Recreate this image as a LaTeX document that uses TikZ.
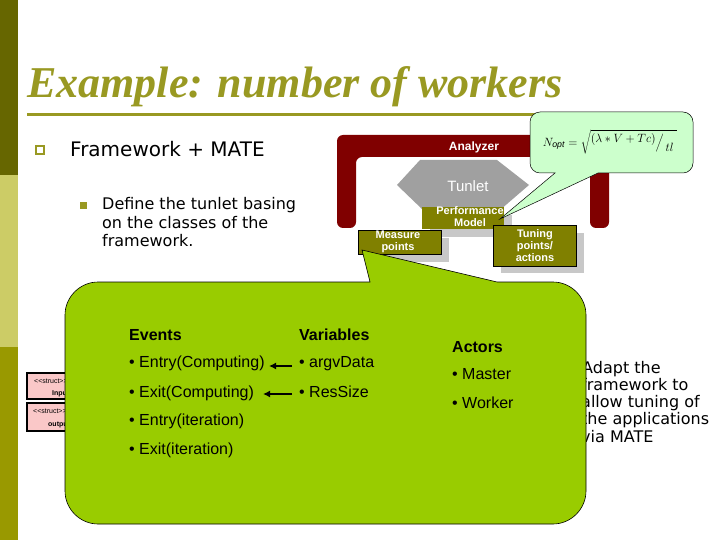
\documentclass[tikz,border=0pt]{standalone}
\usepackage{fontspec}
\setmainfont{Liberation Sans}
\newfontfamily\verd{DejaVu Sans}
\newfontfamily\tms{Liberation Serif}
\usetikzlibrary{arrows.meta}
\definecolor{darkol}{RGB}{102,102,0}
\definecolor{lightol}{RGB}{204,204,102}
\definecolor{midol}{RGB}{153,153,0}
\definecolor{titleol}{RGB}{153,153,34}
\definecolor{anared}{RGB}{128,0,0}
\definecolor{boxol}{RGB}{128,128,0}
\definecolor{hexgray}{RGB}{160,160,160}
\definecolor{shadowgray}{RGB}{200,200,200}
\definecolor{calgreen}{RGB}{153,204,0}
\definecolor{formgreen}{RGB}{204,255,204}
\definecolor{pinkbox}{RGB}{250,200,200}
\begin{document}
\begin{tikzpicture}[x=1pt,y=-1pt,
  lbl/.style={inner sep=0pt, anchor=base west},
  boxt/.style={text=white, font=\fontsize{11}{12}\selectfont\bfseries, align=center, inner sep=0pt},
  olbox/.style={fill=boxol},
  shad/.style={fill=shadowgray},
  arr/.style={-{Latex[length=7pt,width=7pt]}, line width=2pt},
  arialtxt/.style={lbl, font=\fontsize{16}{19}\selectfont},
  arialbold/.style={lbl, font=\fontsize{16}{19}\selectfont\bfseries},
  verdtxt/.style={lbl, font=\verd\fontsize{16}{19}\selectfont},
  pinkstyle/.style={fill=pinkbox, draw=black}
]
\useasboundingbox (0,0) rectangle (720,540);
\fill[white] (0,0) rectangle (720,540);
% left bar
\fill[darkol] (0,0) rectangle (18,175);
\fill[lightol] (0,175) rectangle (18,347);
\fill[midol] (0,347) rectangle (18,540);
% title
\node[lbl, text=titleol, font=\tms\fontsize{44}{50}\selectfont\bfseries\itshape] (title) at (27,98) {Example: number of workers};
\draw[titleol, line width=3pt] (27,115) -- (560,115);
% bullets
\draw[titleol, line width=1.5pt] (36,146) rectangle (44,154);
\node[lbl, font=\verd\fontsize{20}{24}\selectfont] (fw) at (70,157) {Framework + MATE};
\fill[titleol] (80,202) rectangle (87,209);
\node[verdtxt] (d1) at (102,210) {Define the tunlet basing};
\node[verdtxt] (d2) at (102,228.5) {on the classes of the};
\node[verdtxt] (d3) at (102,247) {framework.};
% right text
\node[verdtxt] (r1) at (582,373) {Adapt the};
\node[verdtxt] (r2) at (581,390) {framework to};
\node[verdtxt] (r3) at (581,407.5) {allow tuning of};
\node[verdtxt] (r4) at (581,424.5) {the applications};
\node[verdtxt] (r5) at (581,442) {via MATE};
% pink boxes
\draw[pinkstyle, line width=1.2pt] (27,373) rectangle (110,399);
\draw[pinkstyle, line width=2pt] (27,403) rectangle (110,431);
\node[lbl, font=\fontsize{7}{8}\selectfont] (p1a) at (34,383) {<{}<struct>{}>};
\node[lbl, font=\fontsize{7}{8}\selectfont\bfseries] (p1b) at (52,395) {Input};
\node[lbl, font=\fontsize{7}{8}\selectfont] (p2a) at (33,413) {<{}<struct>{}>};
\node[lbl, font=\fontsize{7}{8}\selectfont\bfseries] (p2b) at (48,426) {output};
% analyzer
\fill[anared, rounded corners=6pt] (337,228) -- (337,135) -- (609,135) -- (609,228) -- (590,228) -- (590,157) -- (356,157) -- (356,228) -- cycle;
\node[boxt, font=\fontsize{12}{14}\selectfont\bfseries] (ana) at (474,147) {Analyzer};
% tunlet hexagon
\fill[hexgray] (397,185) -- (420,160) -- (497,160) -- (529,185) -- (500,210) -- (423,210) -- cycle;
\node[text=white, font=\fontsize{15}{18}\selectfont, inner sep=0pt] (tun) at (468,186) {Tunlet};
% boxes with shadows
\fill[shad] (430,215) rectangle (512,237);
\fill[olbox] (422,207) rectangle (504,229);
\node[boxt] (perf) at (470,217) {Performance\\Model};
\fill[shad] (366,238) rectangle (449,262);
\fill[olbox, draw=black, line width=0.4pt] (358,230) rectangle (441,254);
\node[boxt] (meas) at (398,241.5) {Measure\\points};
\fill[shad] (501,233) rectangle (584,273);
\fill[olbox, draw=black, line width=0.4pt] (493,225) rectangle (576,266);
\node[boxt] (tune) at (535,245.5) {Tuning\\points/\\actions};
% formula callout
\draw[fill=formgreen, draw=black, line width=0.5pt] (540,112) -- (683,112) .. controls (688.5,112) and (693,116.5) .. (693,122) -- (693,163) .. controls (693,168.5) and (688.5,173) .. (683,173) -- (598,173) -- (500,219) -- (555,173) -- (540,173) .. controls (534.5,173) and (530,168.5) .. (530,163) -- (530,122) .. controls (530,116.5) and (534.5,112) .. (540,112) -- cycle;
\node[inner sep=0pt, font=\fontsize{12.5}{15}\selectfont] (form) at (610,142) {$N_{\mathit{opt}} = \sqrt{\raisebox{4pt}{$(\lambda * V + Tc)$}\Big/\raisebox{-5pt}{$\,tl$}\;}$};
% green callout
\draw[fill=calgreen, draw=black, line width=0.6pt] (65,315) .. controls (65,297) and (80,282) .. (98,282) -- (370,282) -- (362,250) -- (497,282) -- (553,282) .. controls (571,282) and (586,297) .. (586,315) -- (586,491) .. controls (586,509) and (571,524) .. (553,524) -- (98,524) .. controls (80,524) and (65,509) .. (65,491) -- cycle;
% green content
\node[arialbold] (ev) at (129,340) {Events};
\node[arialbold] (var) at (299,340) {Variables};
\node[arialbold] (act) at (452,352) {Actors};
\node[arialtxt] (e1) at (129,367) {• Entry(Computing)};
\node[arialtxt] (e2) at (129,397) {• Exit(Computing)};
\node[arialtxt] (e3) at (129,425) {• Entry(iteration)};
\node[arialtxt] (e4) at (129,454) {• Exit(iteration)};
\node[arialtxt] (v1) at (299,367) {• argvData};
\node[arialtxt] (v2) at (299,397) {• ResSize};
\node[arialtxt] (a1) at (452,379) {• Master};
\node[arialtxt] (a2) at (452,408) {• Worker};
\coordinate (a1s) at (292,366);
\coordinate (a1e) at (269,366);
\coordinate (a2s) at (292,394);
\coordinate (a2e) at (263,394);
\draw[arr] (a1s) -- (a1e);
\draw[arr] (a2s) -- (a2e);
\end{tikzpicture}
\end{document}
